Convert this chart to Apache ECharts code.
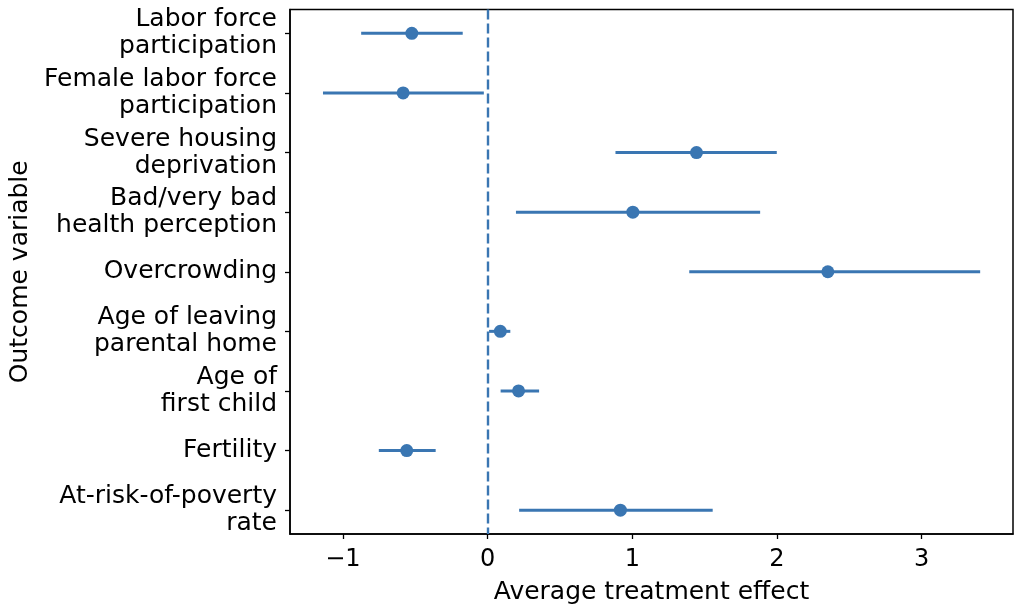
<!DOCTYPE html>
<html>
<head>
<meta charset="utf-8">
<script src="https://cdn.jsdelivr.net/npm/echarts@6/dist/echarts.min.js"></script>
<style>
  html, body { margin: 0; padding: 0; background: #fff; }
  #chart { width: 1024px; height: 610px; }
</style>
</head>
<body>
<div id="chart"></div>
<script>
// outcome labels, top to bottom
const outcomes = [
  'Labor force\nparticipation',
  'Female labor force\nparticipation',
  'Severe housing\ndeprivation',
  'Bad/very bad\nhealth perception',
  'Overcrowding',
  'Age of leaving\nparental home',
  'Age of\nfirst child',
  'Fertility',
  'At-risk-of-poverty\nrate',
]
// point estimates and confidence bounds
const estimate = [-0.524, -0.584, 1.444, 1.004, 2.352, 0.088, 0.214, -0.559, 0.918]
const lower = [-0.874, -1.138, 0.884, 0.196, 1.394, 0.01, 0.09, -0.752, 0.218]
const upper = [-0.172, -0.026, 1.999, 1.884, 3.405, 0.157, 0.356, -0.359, 1.556]
const xTicks = [-1, 0, 1, 2, 3]

const color = '#3a76b2'
const font = 'DejaVu Sans'

const chart = echarts.init(document.getElementById('chart'))

const pointData = estimate.map((v, i) => [v, i])
const barData = lower.map((v, i) => [v, upper[i], i])
const yTicks = outcomes.map((c, i) => i)

chart.setOption({
  animation: false,
  grid: {
    left: 290,
    right: 11,
    top: 9.5,
    bottom: 76,
    show: true,
    borderColor: '#000',
    borderWidth: 1.5,
    backgroundColor: 'transparent',
  },
  xAxis: {
    type: 'value',
    min: -1.366,
    max: 3.632,
    name: 'Average treatment effect',
    nameLocation: 'middle',
    nameGap: 46,
    nameTextStyle: { fontFamily: font, fontSize: 25, color: '#000' },
    axisLine: { show: true, onZero: false, lineStyle: { color: '#000', width: 1.5 } },
    splitLine: { show: false },
    axisTick: {
      show: true,
      customValues: xTicks,
      length: 5,
      lineStyle: { color: '#000', width: 1.3 },
    },
    axisLabel: {
      customValues: xTicks,
      margin: 14,
      fontFamily: font,
      fontSize: 24,
      color: '#000',
      showMinLabel: true,
      showMaxLabel: true,
      formatter: (v) => (v < 0 ? '\u2212' + Math.abs(v) : String(v)),
    },
  },
  yAxis: {
    type: 'value',
    min: -0.4,
    max: 8.4,
    inverse: true,
    name: 'Outcome variable',
    nameLocation: 'middle',
    nameGap: 257,
    nameTextStyle: { fontFamily: font, fontSize: 25, color: '#000' },
    axisLine: { show: true, onZero: false, lineStyle: { color: '#000', width: 1.5 } },
    splitLine: { show: false },
    axisTick: {
      show: true,
      interval: 0,
      customValues: yTicks,
      length: 5,
      lineStyle: { color: '#000', width: 1.3 },
    },
    axisLabel: {
      customValues: yTicks,
      interval: 0,
      margin: 13,
      fontFamily: font,
      fontSize: 25,
      lineHeight: 27,
      padding: [4, 0, 0, 0],
      color: '#000',
      align: 'right',
      showMinLabel: true,
      showMaxLabel: true,
      hideOverlap: false,
      formatter: (v) => outcomes[Math.round(v)] || '',
    },
  },
  series: [
    {
      // confidence intervals
      type: 'custom',
      data: barData,
      encode: { x: [0, 1], y: 2 },
      renderItem(params, api) {
        const a = api.coord([api.value(0), api.value(2)])
        const b = api.coord([api.value(1), api.value(2)])
        return {
          type: 'line',
          shape: { x1: a[0], y1: a[1], x2: b[0], y2: b[1] },
          style: { stroke: color, lineWidth: 3 },
        }
      },
      z: 2,
    },
    {
      type: 'scatter',
      data: pointData,
      symbol: 'circle',
      symbolSize: 13,
      itemStyle: { color: color, opacity: 1 },
      z: 3,
      markLine: {
        silent: true,
        symbol: 'none',
        label: { show: false },
        lineStyle: { color: color, type: [10, 4], width: 2.4 },
        data: [{ xAxis: 0 }],
      },
    },
  ],
})
</script>
</body>
</html>
